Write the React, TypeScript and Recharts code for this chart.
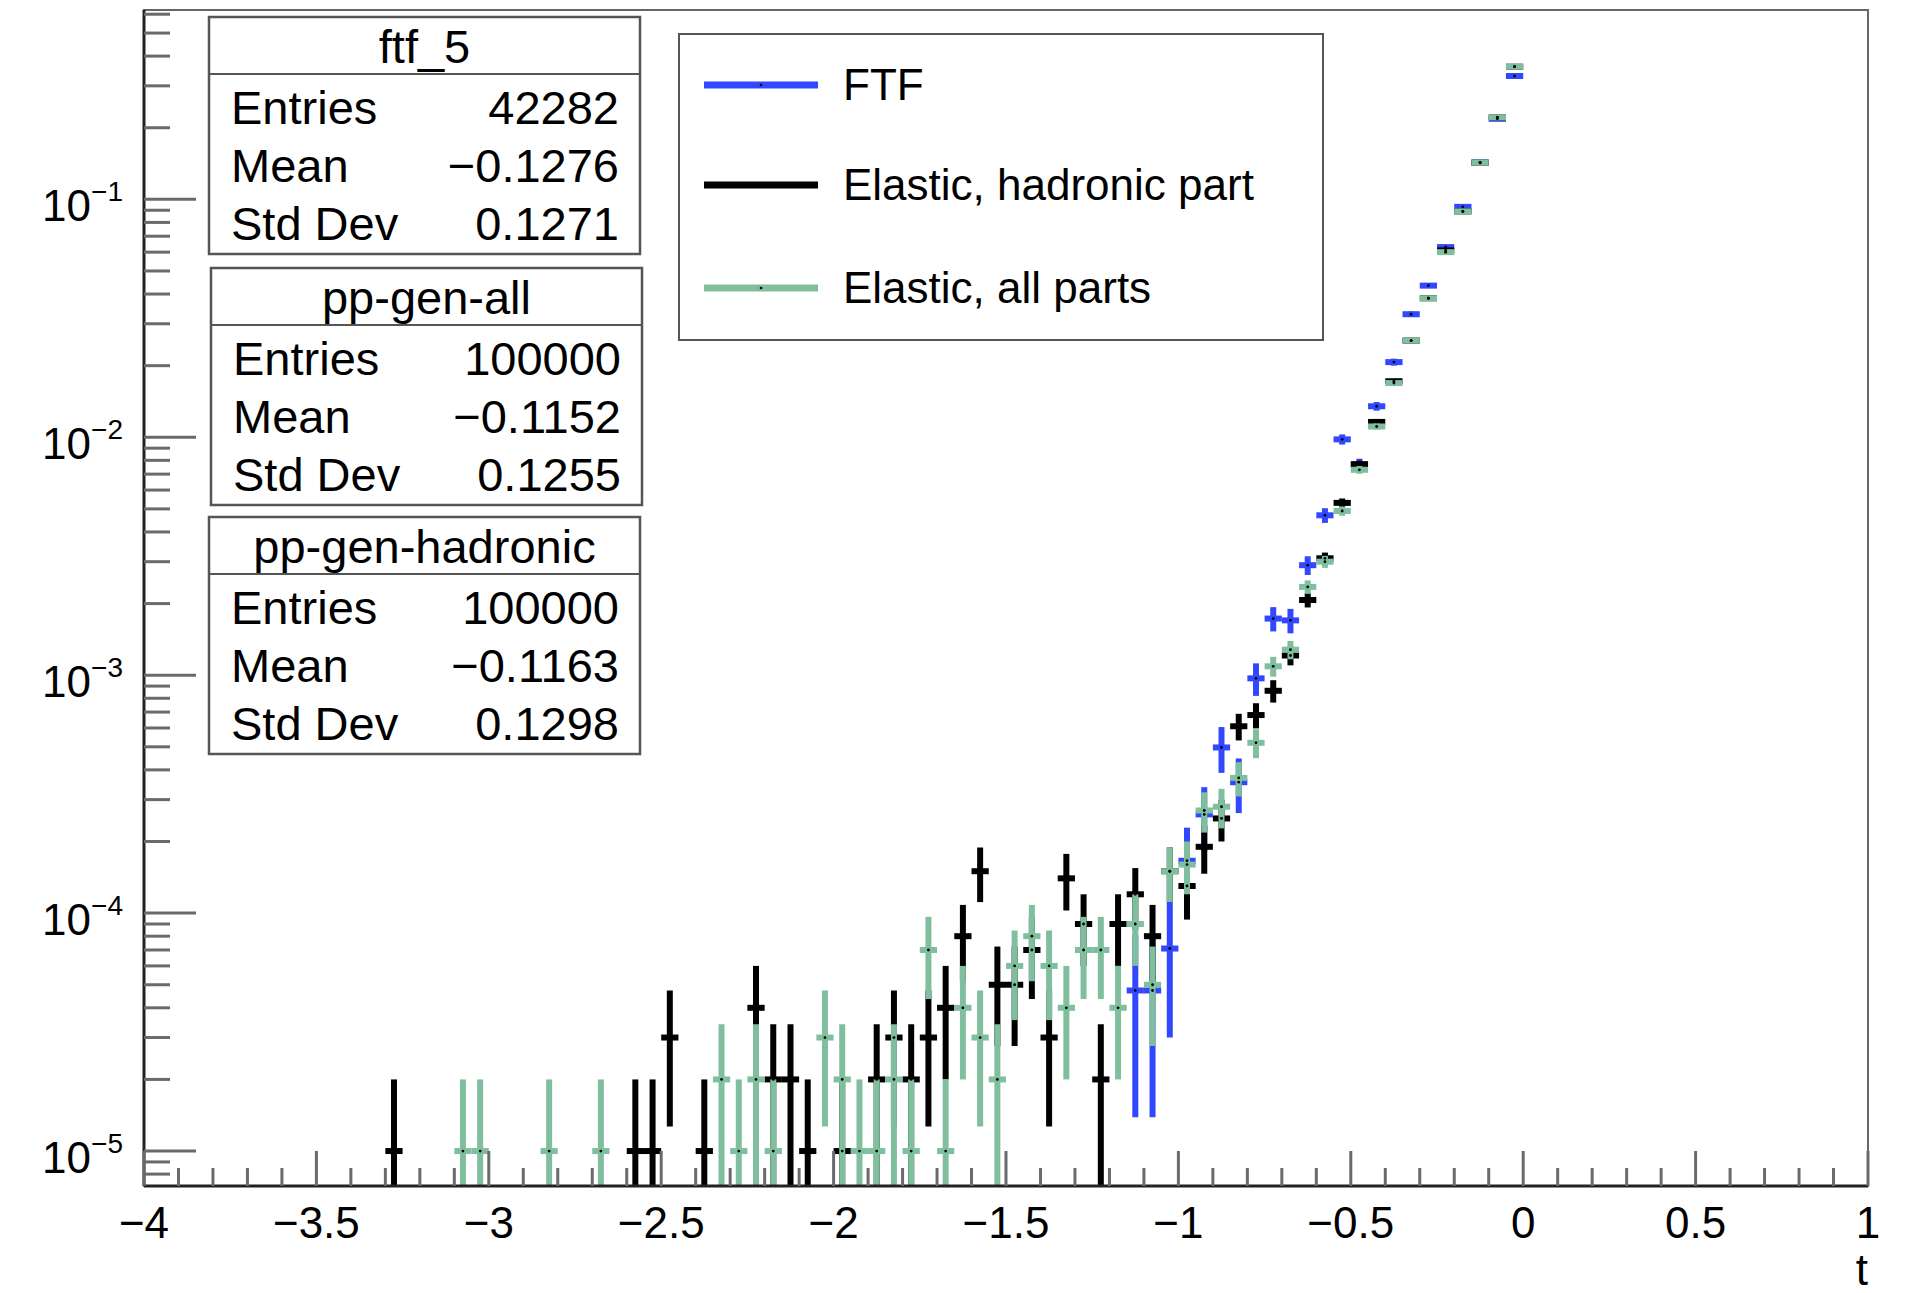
import React from "react";
import {
  ComposedChart,
  Scatter,
  XAxis,
  YAxis,
  ErrorBar,
  ReferenceArea,
  Legend,
} from "recharts";

const FONT = '"Liberation Sans", Arial, Helvetica, sans-serif';

// bin centres (t) and normalised bin contents
const ftfT = [-1.125, -1.075, -1.025, -0.975, -0.925, -0.875, -0.825, -0.775, -0.725, -0.675, -0.625, -0.575, -0.525, -0.475, -0.425, -0.375, -0.325, -0.275, -0.225, -0.175, -0.125, -0.075, -0.025];
const ftfV = [4.73e-5, 4.73e-5, 7.1e-5, 1.66e-4, 2.6e-4, 4.97e-4, 3.55e-4, 9.7e-4, 1.73e-3, 1.7e-3, 2.9e-3, 4.7e-3, 9.8e-3, 7.7e-3, 1.35e-2, 2.07e-2, 3.29e-2, 4.34e-2, 0.063, 0.093, 0.143, 0.218, 0.33];

const hadT = [-3.275, -2.575, -2.525, -2.475, -2.375, -2.225, -2.175, -2.125, -2.075, -1.975, -1.875, -1.825, -1.775, -1.725, -1.675, -1.625, -1.575, -1.525, -1.475, -1.425, -1.375, -1.325, -1.275, -1.225, -1.175, -1.125, -1.075, -1.025, -0.975, -0.925, -0.875, -0.825, -0.775, -0.725, -0.675, -0.625, -0.575, -0.525, -0.475, -0.425, -0.375, -0.325, -0.275, -0.225, -0.175, -0.125, -0.075, -0.025];
const hadV = [1e-5, 1e-5, 1e-5, 3e-5, 1e-5, 4e-5, 2e-5, 2e-5, 1e-5, 1e-5, 2e-5, 3e-5, 2e-5, 3e-5, 4e-5, 8e-5, 1.5e-4, 5e-5, 5e-5, 7e-5, 3e-5, 1.4e-4, 9e-5, 2e-5, 9e-5, 1.2e-4, 8e-5, 1.5e-4, 1.3e-4, 1.9e-4, 2.5e-4, 6.1e-4, 6.8e-4, 8.6e-4, 1.21e-3, 2.07e-3, 3.1e-3, 5.3e-3, 7.7e-3, 1.16e-2, 1.72e-2, 2.55e-2, 3.84e-2, 0.061, 0.089, 0.1425, 0.221, 0.361];

const allT = [-3.075, -3.025, -2.825, -2.675, -2.325, -2.275, -2.225, -2.175, -2.025, -1.975, -1.925, -1.875, -1.825, -1.775, -1.725, -1.675, -1.625, -1.575, -1.525, -1.475, -1.425, -1.375, -1.325, -1.275, -1.225, -1.175, -1.125, -1.075, -1.025, -0.975, -0.925, -0.875, -0.825, -0.775, -0.725, -0.675, -0.625, -0.575, -0.525, -0.475, -0.425, -0.375, -0.325, -0.275, -0.225, -0.175, -0.125, -0.075, -0.025];
const allV = [1e-5, 1e-5, 1e-5, 1e-5, 2e-5, 1e-5, 2e-5, 1e-5, 3e-5, 2e-5, 1e-5, 1e-5, 2e-5, 1e-5, 7e-5, 1e-5, 4e-5, 3e-5, 2e-5, 6e-5, 8e-5, 6e-5, 4e-5, 7e-5, 7e-5, 4e-5, 9e-5, 5e-5, 1.5e-4, 1.6e-4, 2.7e-4, 2.8e-4, 3.7e-4, 5.2e-4, 1.09e-3, 1.28e-3, 2.35e-3, 3.0e-3, 4.9e-3, 7.3e-3, 1.11e-2, 1.69e-2, 2.55e-2, 3.84e-2, 0.06, 0.089, 0.1425, 0.221, 0.361];

// entries per histogram (weight of one entry = 1 / entries)
const ftfEntries = 42282;
const ppEntries = 100000;
const BIN_HALF = 0.025;

const xMajor = [-4, -3.5, -3, -2.5, -2, -1.5, -1, -0.5, 0, 0.5, 1];
const xLabels = ["\u22124", "\u22123.5", "\u22123", "\u22122.5", "\u22122", "\u22121.5", "\u22121", "\u22120.5", "0", "0.5", "1"];
const yDecades = [-5, -4, -3, -2, -1];

const statNames = ["ftf_5", "pp-gen-all", "pp-gen-hadronic"];
const statEntries = ["42282", "100000", "100000"];
const statMeans = ["\u22120.1276", "\u22120.1152", "\u22120.1163"];
const statStd = ["0.1271", "0.1255", "0.1298"];

const Y_MIN = 7.13e-6;
const Y_MAX = 0.625;

const BLUE = "#3148ff";
const BLACK = "#000000";
const GREEN = "#7fbf9e";

const seriesNames = ["FTF", "Elastic, hadronic part", "Elastic, all parts"];
const seriesColors = [BLUE, BLACK, GREEN];

function build(ts: number[], vs: number[], entries: number) {
  const w = 1 / entries;
  return ts.map((t, i) => {
    const v = vs[i];
    const err = Math.sqrt(v * w);
    return { t, v, ex: BIN_HALF, ey: [Math.min(err, v - Y_MIN), err] };
  });
}

const ftfData = build(ftfT, ftfV, ftfEntries);
const hadData = build(hadT, hadV, ppEntries);
const allData = build(allT, allV, ppEntries);

const xTicks: number[] = [];
for (let i = 0; i <= 50; i++) xTicks.push(Math.round((-4 + i * 0.1) * 10) / 10);

const yTicks: number[] = [];
for (let d = -6; d <= -1; d++) {
  for (let m = 1; m <= 9; m++) {
    const v = m * Math.pow(10, d);
    if (v >= Y_MIN && v <= Y_MAX) yTicks.push(v);
  }
}

const XTick = (props: any) => {
  const { x, y, payload } = props;
  const idx = xMajor.findIndex((m) => Math.abs(m - payload.value) < 1e-6);
  const major = idx >= 0;
  return (
    <g>
      <line x1={x} y1={y} x2={x} y2={y - (major ? 35 : 18)} stroke="#6a6a6a" strokeWidth={3} />
      {major && (
        <text x={x} y={y + 52} textAnchor="middle" fontFamily={FONT} fontSize={44} fill="#000">
          {xLabels[idx]}
        </text>
      )}
    </g>
  );
};

const YTick = (props: any) => {
  const { x, y, payload } = props;
  const lg = Math.log10(payload.value);
  const e = Math.round(lg);
  const major = Math.abs(lg - e) < 1e-6;
  return (
    <g>
      <line x1={x} y1={y} x2={x + (major ? 52 : 26)} y2={y} stroke="#6a6a6a" strokeWidth={3} />
      {major && yDecades.includes(e) && (
        <text x={x - 21} y={y + 22} textAnchor="end" fontFamily={FONT} fontSize={44} fill="#000">
          10
          <tspan dy={-20} fontSize={28}>
            {"\u2212" + Math.abs(e)}
          </tspan>
        </text>
      )}
    </g>
  );
};

const TLabel = (props: any) => {
  const vb = props.viewBox || { x: 144, y: 1186, width: 1724 };
  return (
    <text x={vb.x + vb.width} y={vb.y + 99} textAnchor="end" fontFamily={FONT} fontSize={44} fill="#000">
      t
    </text>
  );
};

const Dot = (p: any) => <circle cx={p.cx} cy={p.cy} r={1.4} fill="#000" />;

const LegendBox = () => {
  const rows = [50, 150, 253];
  return (
    <div
      style={{
        position: "relative",
        width: 646,
        height: 308,
        boxSizing: "border-box",
        border: "2px solid #555",
        background: "#fff",
        fontFamily: FONT,
      }}
    >
      {seriesNames.map((name, i) => (
        <div key={name} style={{ position: "absolute", left: 0, top: rows[i] - 30, height: 60, width: 640 }}>
          <svg width={140} height={60} style={{ position: "absolute", left: 22, top: 0 }}>
            <line x1={2} y1={30} x2={116} y2={30} stroke={seriesColors[i]} strokeWidth={7} />
            <circle cx={59} cy={30} r={1.3} fill="#000" />
          </svg>
          <span
            style={{
              position: "absolute",
              left: 163,
              top: 30 - 26,
              fontSize: 44,
              lineHeight: "52px",
              color: "#000",
              whiteSpace: "nowrap",
            }}
          >
            {name}
          </span>
        </div>
      ))}
    </div>
  );
};

const StatsBoxes = () => {
  const tops = [17, 268, 517];
  const lefts = [209, 211, 209];
  const w = 431;
  const h = 237;
  return (
    <svg
      width={1931}
      height={1293}
      style={{ position: "absolute", left: 0, top: 0, pointerEvents: "none" }}
    >
      {statNames.map((name, i) => {
        const x0 = lefts[i];
        const y0 = tops[i];
        const rowsY = [107, 165, 223];
        const labels = ["Entries", "Mean", "Std Dev"];
        const vals = [statEntries[i], statMeans[i], statStd[i]];
        return (
          <g key={name} fontFamily={FONT} fontSize={47} fill="#000">
            <rect x={x0} y={y0} width={w} height={h} fill="#fff" stroke="#555" strokeWidth={2.5} />
            <line x1={x0} y1={y0 + 57} x2={x0 + w} y2={y0 + 57} stroke="#555" strokeWidth={2} />
            <text x={x0 + w / 2} y={y0 + 46} textAnchor="middle">
              {name}
            </text>
            {labels.map((lab, j) => (
              <g key={lab}>
                <text x={x0 + 22} y={y0 + rowsY[j]}>
                  {lab}
                </text>
                <text x={x0 + w - 21} y={y0 + rowsY[j]} textAnchor="end">
                  {vals[j]}
                </text>
              </g>
            ))}
          </g>
        );
      })}
    </svg>
  );
};

const App: React.FC = () => {
  return (
    <div style={{ position: "absolute", left: 0, top: 0, width: 1931, height: 1293, background: "#fff" }}>
      <ComposedChart width={1931} height={1293} margin={{ top: 10, right: 63, bottom: 0, left: 0 }}>
        <XAxis
          type="number"
          dataKey="t"
          domain={[-4, 1]}
          ticks={xTicks}
          interval={0}
          allowDataOverflow
          height={107}
          tickSize={0}
          tickMargin={0}
          tickLine={false}
          axisLine={{ stroke: "#222", strokeWidth: 3 }}
          tick={<XTick />}
          label={<TLabel />}
        />
        <YAxis
          type="number"
          dataKey="v"
          scale="log"
          domain={[Y_MIN, Y_MAX]}
          ticks={yTicks}
          interval={0}
          allowDataOverflow
          width={144}
          tickSize={0}
          tickMargin={0}
          tickLine={false}
          axisLine={{ stroke: "#222", strokeWidth: 3 }}
          tick={<YTick />}
        />
        <ReferenceArea x1={-4} x2={1} y1={Y_MIN} y2={Y_MAX} fill="none" stroke="#666" strokeWidth={2} />
        <Scatter name={seriesNames[0]} data={ftfData} fill={BLUE} shape={<Dot />} isAnimationActive={false}>
          <ErrorBar dataKey="ex" direction="x" width={0} stroke={BLUE} strokeWidth={6} isAnimationActive={false} />
          <ErrorBar dataKey="ey" direction="y" width={0} stroke={BLUE} strokeWidth={6} isAnimationActive={false} />
        </Scatter>
        <Scatter name={seriesNames[1]} data={hadData} fill={BLACK} shape={<Dot />} isAnimationActive={false}>
          <ErrorBar dataKey="ex" direction="x" width={0} stroke={BLACK} strokeWidth={6} isAnimationActive={false} />
          <ErrorBar dataKey="ey" direction="y" width={0} stroke={BLACK} strokeWidth={6} isAnimationActive={false} />
        </Scatter>
        <Scatter name={seriesNames[2]} data={allData} fill={GREEN} shape={<Dot />} isAnimationActive={false}>
          <ErrorBar dataKey="ex" direction="x" width={0} stroke={GREEN} strokeWidth={6} isAnimationActive={false} />
          <ErrorBar dataKey="ey" direction="y" width={0} stroke={GREEN} strokeWidth={6} isAnimationActive={false} />
        </Scatter>
        <Legend
          layout="vertical"
          align="center"
          verticalAlign="middle"
          wrapperStyle={{ left: 678, top: 33, width: 646, height: 308 }}
          content={() => <LegendBox />}
        />
      </ComposedChart>
      <StatsBoxes />
    </div>
  );
};

export default App;
